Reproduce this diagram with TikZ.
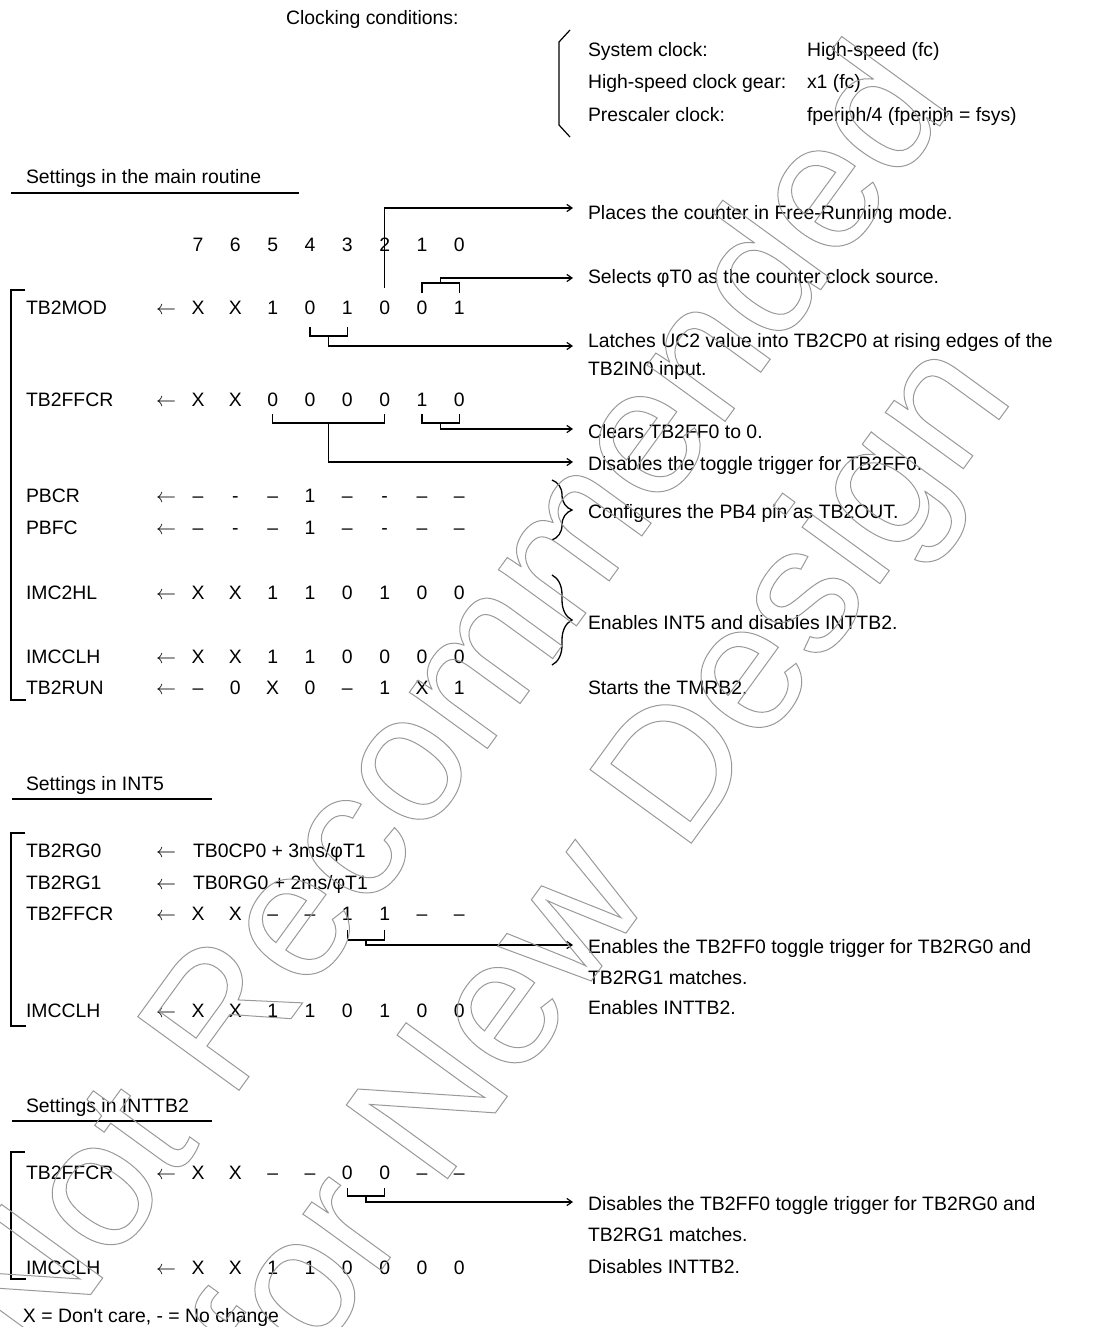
\documentclass[tikz,border=0pt]{standalone}
\usepackage{fontspec}
\setmainfont{Liberation Sans}
\usetikzlibrary{arrows.meta,calc,decorations.pathreplacing}
\newcommand\larr{$\leftarrow$}
\newcommand\regrow[4]{%
  \node[lbl] (#1) at (26,#3+7) {#2};
  \node[bitc] (#1-ar) at (166,#3+7) {\larr};
  \foreach \v [count=\i from 0] in {#4}{%
    \pgfmathtruncatemacro\bb{7-\i}%
    \node[bitc] (#1-\bb) at ({459.33-37.33*\bb},#3+7) {\v};
  }%
}
\newcommand\wmon{\special{pdf:literal direct 1 Tr 0.5 w}}
\newcommand\wmoff{\special{pdf:literal direct 0 Tr}}
\begin{document}
\begin{tikzpicture}[x=0.5pt,y=-0.5pt,
  every node/.style={inner sep=0pt,outer sep=0pt,font=\fontsize{9.7}{11.6}\selectfont},
  lbl/.style={anchor=base west},
  bitc/.style={anchor=base},
  conn/.style={line width=0.65pt},
  arr/.style={conn,-{Straight Barb[length=2.6pt,width=3.6pt,line width=0.6pt]}},
  brk/.style={line width=0.85pt},
  uline/.style={line width=1pt},
  brc/.style={line width=0.65pt,decorate,decoration={brace,amplitude=10pt,aspect=0.5}},
  wmark/.style={anchor=base,rotate=54,text=black!40,font=\fontsize{91}{100}\selectfont}]
\useasboundingbox (0,0) rectangle (1112,1327);

% clocking conditions
\node[lbl] (clk) at (286,25) {Clocking conditions:};
\draw[line width=0.6pt] (570,30) -- (559,42) -- (559,125) -- (570,137);
\node[lbl] (c1a) at (588,57) {System clock:};
\node[lbl] (c1b) at (807,57) {High-speed (fc)};
\node[lbl] (c2a) at (588,89) {High-speed clock gear:};
\node[lbl] (c2b) at (807,89) {x1 (fc)};
\node[lbl] (c3a) at (588,121) {Prescaler clock:};
\node[lbl] (c3b) at (807,121) {fperiph/4 (fperiph = fsys)};

% main routine
\node[lbl] (h1) at (26,184) {Settings in the main routine};
\draw[uline] (11,193) -- (299,193);
\foreach \b in {0,...,7} \node[bitc] (hd-\b) at ({459.33-37.33*\b},251) {\b};

\regrow{mod}{TB2MOD}{307}{X,X,1,0,1,0,0,1}
\regrow{ffcr}{TB2FFCR}{399}{X,X,0,0,0,0,1,0}
\regrow{pbcr}{PBCR}{495}{–,-,–,1,–,-,–,–}
\regrow{pbfc}{PBFC}{527}{–,-,–,1,–,-,–,–}
\regrow{imc}{IMC2HL}{592}{X,X,1,1,0,1,0,0}
\regrow{imcc}{IMCCLH}{656}{X,X,1,1,0,0,0,0}
\regrow{run}{TB2RUN}{687}{–,0,X,0,–,1,X,1}
\draw[brk] (25,290) -- (11,290) -- (11,700) -- (26,700);

\node[lbl] (d1) at (588,219) {Places the counter in Free-Running mode.};
\node[lbl] (d2) at (588,283) {Selects φT0 as the counter clock source.};
\node[lbl] (d3) at (588,347) {Latches UC2 value into TB2CP0 at rising edges of the};
\node[lbl] (d3b) at (588,375) {TB2IN0 input.};
\node[lbl] (d4) at (588,438) {Clears TB2FF0 to 0.};
\node[lbl] (d5) at (588,470) {Disables the toggle trigger for TB2FF0.};
\node[lbl] (d6) at (588,518) {Configures the PB4 pin as TB2OUT.};
\node[lbl] (d7) at (588,629) {Enables INT5 and disables INTTB2.};
\node[lbl] (d8) at (588,694) {Starts the TMRB2.};

\coordinate (e1) at (573,208);
\coordinate (e2) at (573,278);
\coordinate (e3) at (573,346);
\coordinate (e4) at (573,429);
\coordinate (e5) at (573,462);
\coordinate (e6) at (573,945);
\coordinate (e7) at (573,1202);

\draw[arr] ($(mod-2.base)+(0,-26)$) |- (e1);
\draw[conn] ($(mod-1.base)+(0,-21)$) -- ($(mod-1.base)+(0,-31)$) -| ($(mod-0.base)+(0,-21)$);
\draw[arr] ($(mod-1.base)!0.5!(mod-0.base)+(0,-31)$) |- (e2);
\draw[conn] ($(mod-4.base)+(0,13)$) -- ($(mod-4.base)+(0,22)$) -| ($(mod-3.base)+(0,13)$);
\draw[arr] ($(mod-4.base)!0.5!(mod-3.base)+(0,22)$) |- (e3);
\draw[conn] ($(ffcr-1.base)+(0,8)$) -- ($(ffcr-1.base)+(0,17)$) -| ($(ffcr-0.base)+(0,8)$);
\draw[arr] ($(ffcr-1.base)!0.5!(ffcr-0.base)+(0,17)$) |- (e4);
\draw[conn] ($(ffcr-5.base)+(0,8)$) -- ($(ffcr-5.base)+(0,17)$) -| ($(ffcr-2.base)+(0,8)$);
\draw[arr] ($(ffcr-5.base)!0.5!(ffcr-2.base)+(0,17)$) |- (e5);

\draw[brc] (552,480) -- (552,540);
\draw[brc] (552,575) -- (552,665);

% INT5
\node[lbl] (h2) at (26,790) {Settings in INT5};
\draw[uline] (12,799) -- (212,799);
\node[lbl] (rg0) at (26,857) {TB2RG0};
\node[bitc] (rg0-ar) at (166,857) {\larr};
\node[lbl] (rg0-v) at (193,857) {TB0CP0 + 3ms/φT1};
\node[lbl] (rg1) at (26,889) {TB2RG1};
\node[bitc] (rg1-ar) at (166,889) {\larr};
\node[lbl] (rg1-v) at (193,889) {TB0RG0 + 2ms/φT1};
\regrow{iffcr}{TB2FFCR}{913}{X,X,–,–,1,1,–,–}
\regrow{iimcc}{IMCCLH}{1010}{X,X,1,1,0,1,0,0}
\draw[brk] (25,833) -- (11,833) -- (11,1026) -- (26,1026);
\draw[conn] ($(iffcr-3.base)+(0,10)$) -- ($(iffcr-3.base)+(0,20)$) -| ($(iffcr-2.base)+(0,10)$);
\draw[arr] ($(iffcr-3.base)!0.5!(iffcr-2.base)+(0,20)$) |- (e6);
\node[lbl] (d9) at (588,953) {Enables the TB2FF0 toggle trigger for TB2RG0 and};
\node[lbl] (d9b) at (588,984) {TB2RG1 matches.};
\node[lbl] (d10) at (588,1014) {Enables INTTB2.};

% INTTB2
\node[lbl] (h3) at (26,1112) {Settings in INTTB2};
\draw[uline] (12,1121) -- (212,1121);
\regrow{tffcr}{TB2FFCR}{1172}{X,X,–,–,0,0,–,–}
\regrow{timcc}{IMCCLH}{1267}{X,X,1,1,0,0,0,0}
\draw[brk] (25,1152) -- (11,1152) -- (11,1279) -- (26,1279);
\draw[conn] ($(tffcr-3.base)+(0,9)$) -- ($(tffcr-3.base)+(0,17)$) -| ($(tffcr-2.base)+(0,9)$);
\draw[arr] ($(tffcr-3.base)!0.5!(tffcr-2.base)+(0,17)$) |- (e7);
\node[lbl] (d11) at (588,1210) {Disables the TB2FF0 toggle trigger for TB2RG0 and};
\node[lbl] (d11b) at (588,1241) {TB2RG1 matches.};
\node[lbl] (d12) at (588,1273) {Disables INTTB2.};

\node[lbl] (foot) at (23,1322) {X = Don\textquotesingle t care, - = No change};

% watermark
\begin{scope}
\node[wmark] (wm1) at (495,738) {\wmon Not Recommended\wmoff};
\end{scope}
\begin{scope}
\node[wmark] (wm2) at (650,900) {\wmon for New Design\wmoff};
\end{scope}
\end{tikzpicture}
\end{document}
